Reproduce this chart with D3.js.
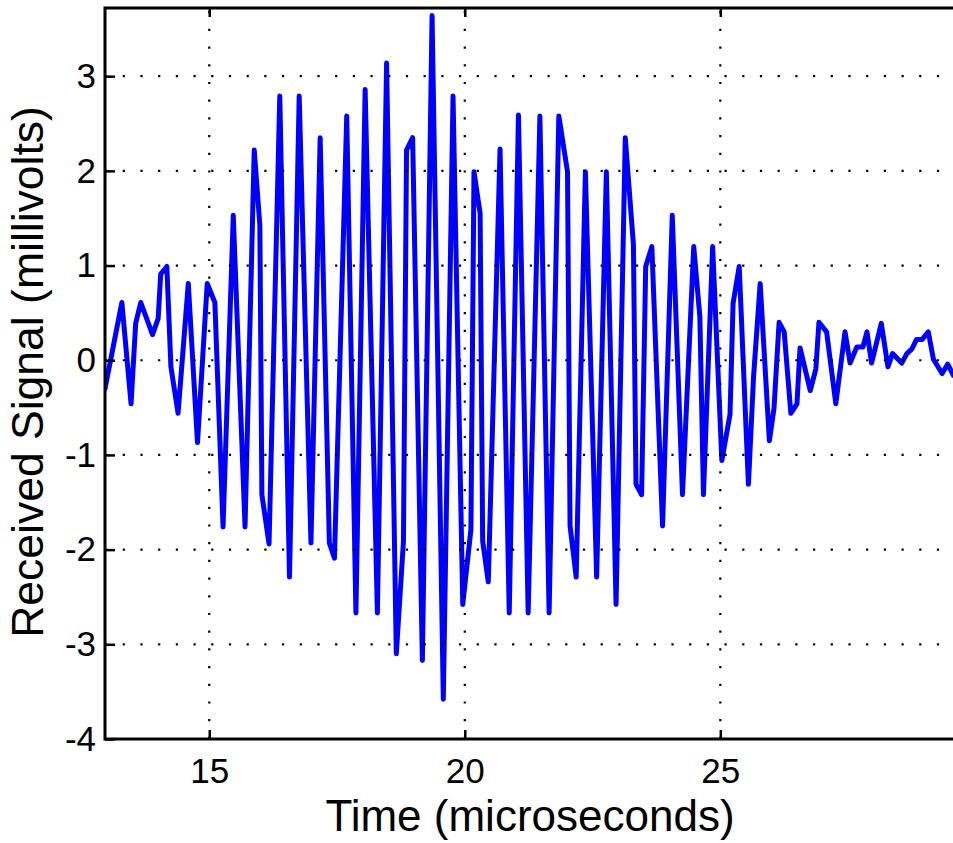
<!DOCTYPE html>
<html>
<head>
<meta charset="utf-8">
<script src="https://cdn.jsdelivr.net/npm/d3@7"></script>
<style>
  body { margin: 0; background: #fff; }
  svg text { font-family: "Liberation Sans", Arial, Helvetica, sans-serif; fill: #000; }
</style>
</head>
<body>
<svg id="chart" width="953" height="843"></svg>
<script>
// received ultrasonic pulse (time in microseconds, signal in mV)
var time = [12.96, 13.29, 13.47, 13.56, 13.66, 13.89, 14.00, 14.05, 14.17, 14.25,
  14.39, 14.59, 14.77, 14.96, 15.11, 15.27, 15.47, 15.70, 15.88, 15.99,
  16.03, 16.17, 16.38, 16.57, 16.76, 16.99, 17.17, 17.35, 17.45, 17.69,
  17.87, 18.05, 18.29, 18.47, 18.66, 18.80, 18.86, 18.98, 19.17, 19.36,
  19.58, 19.77, 19.96, 20.12, 20.18, 20.30, 20.35, 20.46, 20.69, 20.87,
  21.05, 21.24, 21.47, 21.65, 21.84, 22.01, 22.06, 22.18, 22.36, 22.58,
  22.77, 22.96, 23.14, 23.30, 23.35, 23.46, 23.54, 23.66, 23.87, 24.06,
  24.26, 24.48, 24.60, 24.67, 24.85, 25.03, 25.19, 25.25, 25.37, 25.55,
  25.65, 25.78, 25.96, 26.05, 26.15, 26.25, 26.38, 26.50, 26.56, 26.76,
  26.87, 26.93, 27.08, 27.26, 27.44, 27.54, 27.67, 27.79, 27.87, 27.96,
  28.15, 28.28, 28.37, 28.55, 28.65, 28.75, 28.84, 28.95, 29.07, 29.17,
  29.34, 29.45, 29.56];

var signal = [-0.30, 0.61, -0.46, 0.39, 0.61, 0.27, 0.44, 0.91, 0.99, -0.07,
  -0.56, 0.81, -0.87, 0.81, 0.61, -1.76, 1.53, -1.76, 2.22, 1.43,
  -1.42, -1.94, 2.79, -2.29, 2.79, -1.93, 2.35, -1.93, -2.09, 2.58,
  -2.67, 2.86, -2.67, 3.14, -3.10, -1.91, 2.22, 2.35, -3.17, 3.64,
  -3.58, 2.79, -2.58, -1.79, 1.99, 1.55, -1.91, -2.34, 2.23, -2.67,
  2.59, -2.67, 2.58, -2.67, 2.58, 1.99, -1.75, -2.29, 1.99, -2.29,
  1.99, -2.58, 2.35, 1.22, -1.31, -1.42, 0.99, 1.20, -1.75, 1.53,
  -1.42, 1.20, 0.46, -1.42, 1.20, -1.06, -0.57, 0.60, 0.99, -1.31,
  -0.18, 0.81, -0.85, -0.51, 0.40, 0.30, -0.56, -0.46, 0.13, -0.32,
  -0.09, 0.40, 0.30, -0.46, 0.30, -0.03, 0.14, 0.14, 0.30, -0.03,
  0.39, -0.07, 0.07, -0.03, 0.07, 0.12, 0.22, 0.22, 0.30, 0.01,
  -0.14, -0.04, -0.16];

var xTicks = [15, 20, 25];
var yTicks = [-4, -3, -2, -1, 0, 1, 2, 3];

var margin = {top: 8, left: 105, bottom: 104},
    width = 850.4,
    height = 843 - margin.top - margin.bottom;

var svg = d3.select("#chart");

var x = d3.scaleLinear().domain([12.96, 29.6]).range([0, width]);
var y = d3.scaleLinear().domain([-4, 3.72]).range([height, 0]);

var g = svg.append("g")
  .attr("transform", "translate(" + margin.left + "," + margin.top + ")");

g.append("clipPath").attr("id", "plot-clip")
  .append("rect")
  .attr("width", width)
  .attr("height", height);

// pulse trace
var data = time.map(function(t, i) { return {t: t, v: signal[i]}; });

var line = d3.line()
  .x(function(d) { return x(d.t); })
  .y(function(d) { return y(d.v); });

g.append("path")
  .datum(data)
  .attr("clip-path", "url(#plot-clip)")
  .attr("fill", "none")
  .attr("stroke", "#0000ff")
  .attr("stroke-width", 5)
  .attr("stroke-linejoin", "round")
  .attr("stroke-linecap", "round")
  .attr("d", line);

// dotted grid
g.selectAll(".grid-x")
  .data(xTicks)
  .enter().append("line")
  .attr("class", "grid-x")
  .attr("x1", function(d) { return x(d); })
  .attr("x2", function(d) { return x(d); })
  .attr("y1", height)
  .attr("y2", 0);

g.selectAll(".grid-y")
  .data(yTicks)
  .enter().append("line")
  .attr("class", "grid-y")
  .attr("x1", 0)
  .attr("x2", width)
  .attr("y1", function(d) { return y(d); })
  .attr("y2", function(d) { return y(d); });

g.selectAll(".grid-x, .grid-y")
  .attr("stroke", "#000")
  .attr("stroke-width", 2.2)
  .attr("stroke-dasharray", "2.2 15.5");

// axes, ticks pointing inward
var xAxis = g.append("g")
  .attr("transform", "translate(0," + height + ")")
  .call(d3.axisBottom(x).tickValues(xTicks).tickSize(-9).tickPadding(19).tickFormat(d3.format("d")));

var xAxisTop = g.append("g")
  .call(d3.axisTop(x).tickValues(xTicks).tickSize(-9).tickFormat(""));

var yAxis = g.append("g")
  .call(d3.axisLeft(y).tickValues(yTicks).tickSize(-10).tickPadding(9).tickFormat(function(d) { return d < 0 ? "-" + Math.abs(d) : d; }));

[xAxis, xAxisTop, yAxis].forEach(function(a) {
  a.select(".domain").remove();
  a.selectAll("line").attr("stroke", "#000").attr("stroke-width", 2.5);
  a.selectAll("text").attr("font-size", "35px").attr("fill", "#000");
});

// box
g.append("rect")
  .attr("width", width)
  .attr("height", height)
  .attr("fill", "none")
  .attr("stroke", "#000")
  .attr("stroke-width", 3);

// labels
svg.append("text")
  .attr("x", 530)
  .attr("y", 831)
  .attr("text-anchor", "middle")
  .attr("font-size", "44px")
  .text("Time (microseconds)");

svg.append("text")
  .attr("transform", "translate(43," + 372 + ") rotate(-90)")
  .attr("text-anchor", "middle")
  .attr("font-size", "44.5px")
  .text("Received Signal (millivolts)");
</script>
</body>
</html>
